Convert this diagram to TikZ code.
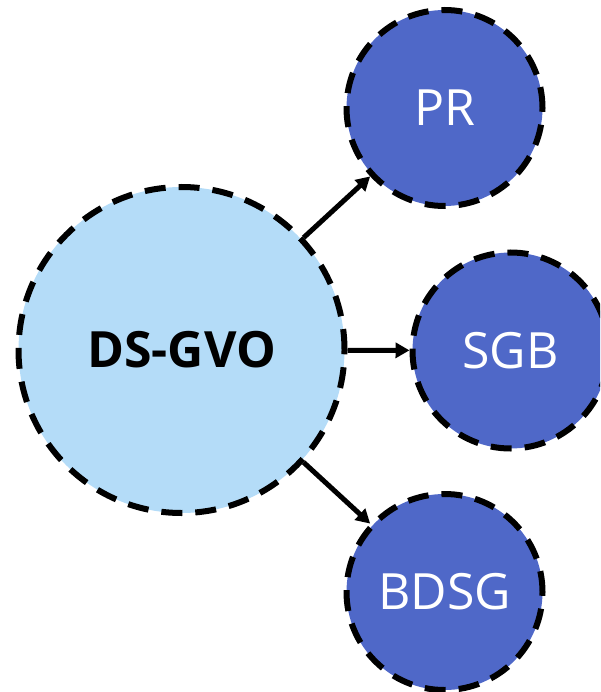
\documentclass[tikz,border=0pt]{standalone}
\usepackage{fontspec}
\setmainfont{Open Sans}
\usetikzlibrary{arrows.meta}
\definecolor{lightblue}{RGB}{180,220,248}
\definecolor{darkblue}{RGB}{79,104,200}
\tikzset{
  bubble/.style={circle, draw=black, line width=6pt, dash pattern=on 21pt off 13pt, inner sep=0pt},
  mainbubble/.style={bubble, fill=lightblue, minimum size=326pt, font=\fontsize{50}{60}\selectfont\bfseries, text=black},
  subbubble/.style={bubble, fill=darkblue, minimum size=196pt, font=\fontsize{50}{60}\selectfont, text=white},
  link/.style={line width=5pt, -{Triangle[length=14pt,width=15pt]}}
}
\begin{document}
\begin{tikzpicture}[x=1pt,y=-1pt]
\useasboundingbox (0,0) rectangle (600,692);
\clip (0,0) rectangle (600,692);
\node[mainbubble] (dsgvo) at (181.5,350) {DS-GVO};
\node[subbubble] (pr) at (444.5,108) {PR};
\node[subbubble] (sgb) at (510.5,350.5) {SGB};
\node[subbubble] (bdsg) at (444.5,592) {BDSG};
\draw[link] (dsgvo) -- (pr);
\draw[link] (dsgvo) -- (sgb);
\draw[link] (dsgvo) -- (bdsg);
\end{tikzpicture}
\end{document}
